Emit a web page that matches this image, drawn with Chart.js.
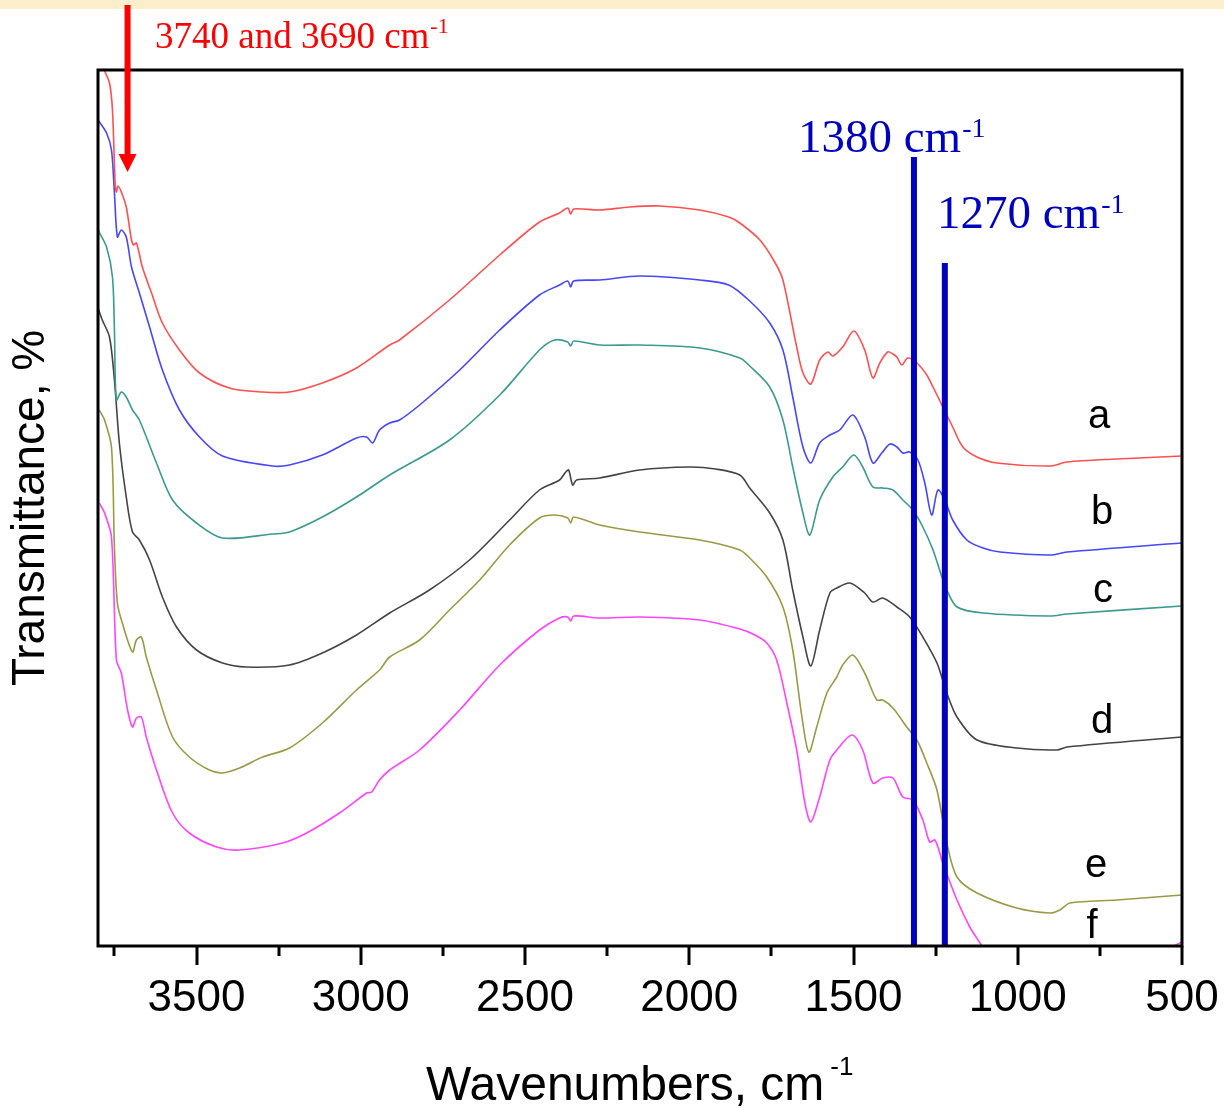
<!DOCTYPE html>
<html><head><meta charset="utf-8">
<script src="https://cdn.jsdelivr.net/npm/chart.js@4.4.1/dist/chart.umd.min.js"></script>
<style>html,body{margin:0;padding:0;background:#fff}#wrap{position:relative;width:1224px;height:1108px}</style>
</head><body><div id="wrap"><canvas id="c"></canvas></div>
<script>
// ---- data (wavenumber cm-1, transmittance arbitrary units, curves offset) ----
const seriesNames = ['a', 'b', 'c', 'd', 'e', 'f'];
const majorTicks = [3500, 3000, 2500, 2000, 1500, 1000, 500];
const minorTicks = [3750, 3250, 2750, 2250, 1750, 1250, 750];
const markerLines = [1316, 1222];      // blue marker positions
const markerTops = [789, 683];
const arrowWavenumber = 3710;

const curveA = [[3800,920],[3780,876],[3765,863],[3756,836],[3748,764],[3744,754],[3739,760],[3729,754],[3714,739],[3698,706],[3692,701],[3683,703],[3665,679],[3637,653],[3604,623],[3552,596],[3491,573],[3400,558],[3299,554],[3217,554],[3117,563],[3013,578],[2912,601],[2882,606],[2730,646],[2577,691],[2456,724],[2395,733],[2370,738],[2361,732],[2352,737],[2273,736],[2181,739],[2090,740],[1968,736],[1880,729],[1846,723],[1785,706],[1740,684],[1715,666],[1673,599],[1654,573],[1630,562],[1603,586],[1578,594],[1563,590],[1533,599],[1499,615],[1466,596],[1441,568],[1420,583],[1396,594],[1380,592],[1368,589],[1353,581],[1335,588],[1307,583],[1277,571],[1258,559],[1228,539],[1198,519],[1167,499],[1124,489],[1064,483],[902,480],[850,484],[698,487],[500,490]];
const curveB = [[3800,826],[3774,813],[3759,796],[3750,753],[3741,709],[3729,716],[3714,709],[3698,679],[3674,653],[3643,619],[3604,576],[3552,536],[3491,509],[3421,490],[3269,480],[3217,481],[3117,491],[3013,508],[2982,509],[2964,503],[2943,516],[2912,523],[2882,526],[2821,541],[2699,576],[2577,616],[2456,651],[2395,661],[2370,665],[2361,659],[2352,665],[2273,666],[2151,670],[1968,666],[1880,661],[1816,645],[1755,623],[1715,596],[1685,549],[1654,499],[1630,483],[1603,503],[1572,511],[1542,516],[1502,531],[1466,509],[1441,483],[1414,493],[1389,502],[1368,499],[1350,493],[1329,494],[1304,486],[1283,463],[1262,431],[1243,456],[1222,446],[1198,426],[1155,406],[1106,398],[1054,394],[902,391],[850,394],[500,403]];
const curveC = [[3800,716],[3774,699],[3756,669],[3750,616],[3744,546],[3729,554],[3714,549],[3695,536],[3674,526],[3622,483],[3573,446],[3500,423],[3421,408],[3269,412],[3217,414],[3117,429],[3013,449],[2912,471],[2730,506],[2577,551],[2456,596],[2410,606],[2370,604],[2361,600],[2352,605],[2273,601],[2151,601],[1968,598],[1846,588],[1816,580],[1755,559],[1715,526],[1685,479],[1654,433],[1633,411],[1603,446],[1563,469],[1533,479],[1499,491],[1472,479],[1441,459],[1411,458],[1380,456],[1350,446],[1319,436],[1289,419],[1258,396],[1231,369],[1216,356],[1185,339],[1106,333],[902,330],[850,332],[500,340]];
const curveD = [[3800,638],[3787,626],[3765,609],[3750,566],[3735,503],[3714,449],[3695,414],[3674,406],[3643,386],[3604,349],[3561,319],[3500,296],[3421,283],[3348,279],[3217,281],[3117,293],[3013,311],[2912,333],[2791,356],[2669,386],[2547,426],[2456,456],[2395,466],[2376,474],[2367,476],[2355,461],[2343,466],[2273,468],[2151,476],[1999,479],[1920,477],[1846,471],[1816,458],[1755,433],[1715,406],[1685,356],[1654,309],[1630,280],[1603,316],[1572,353],[1551,358],[1511,363],[1466,353],[1441,344],[1411,348],[1368,339],[1329,329],[1289,309],[1246,283],[1216,253],[1185,229],[1124,206],[1003,198],[881,196],[850,199],[500,209]];
const curveE = [[3796,536],[3780,526],[3759,499],[3750,399],[3741,343],[3726,323],[3695,294],[3683,306],[3668,309],[3653,289],[3622,256],[3573,209],[3522,189],[3461,176],[3421,173],[3369,178],[3299,189],[3217,198],[3117,223],[3013,256],[2943,276],[2912,289],[2821,306],[2730,336],[2638,366],[2547,401],[2456,428],[2410,431],[2370,428],[2361,423],[2352,429],[2273,421],[2151,414],[1968,406],[1846,396],[1816,388],[1764,369],[1715,339],[1685,296],[1657,229],[1636,194],[1612,219],[1581,253],[1551,269],[1533,281],[1502,291],[1466,273],[1429,246],[1411,246],[1380,238],[1338,219],[1307,206],[1277,183],[1246,156],[1216,103],[1185,69],[1124,53],[1003,38],[902,33],[872,36],[841,43],[698,46],[500,51]];
const curveF = [[3796,443],[3780,433],[3759,409],[3744,286],[3729,273],[3710,236],[3695,219],[3683,228],[3668,229],[3653,209],[3622,176],[3573,133],[3522,113],[3439,99],[3369,96],[3238,103],[3165,113],[3065,133],[2982,153],[2967,154],[2943,166],[2912,176],[2821,196],[2699,236],[2577,281],[2456,316],[2395,328],[2370,329],[2361,325],[2352,330],[2273,328],[2151,329],[1968,326],[1846,317],[1800,311],[1764,303],[1734,286],[1703,243],[1673,196],[1648,143],[1630,124],[1603,149],[1572,186],[1551,196],[1505,211],[1472,196],[1441,163],[1411,168],[1380,168],[1350,149],[1319,146],[1289,126],[1268,104],[1252,106],[1228,83],[1185,46],[1146,19],[1115,3],[1054,-29],[750,-54],[567,-44],[530,-2],[500,4]];

const curves = [curveA, curveB, curveC, curveD, curveE, curveF];
const colors = ['#ff5050', '#4646ff', '#3a9a92', '#444444', '#9a9a46', '#ff44ff'];

const toXY = arr => arr.map(p => ({x: p[0], y: p[1]}));

const datasets = [];
markerLines.forEach((w, i) => {
  datasets.push({label: 'marker' + i, data: [{x: w, y: markerTops[i]}, {x: w, y: 0}],
    borderColor: '#0000c0', borderWidth: 6, pointRadius: 0, order: 0, borderCapStyle: 'butt', clip: false});
});
curves.forEach((c, i) => {
  datasets.push({label: seriesNames[i], data: toXY(c), borderColor: colors[i], borderWidth: 1.6,
    pointRadius: 0, tension: 0.3, order: 1});
});

const SANS = '"Liberation Sans", Arial, sans-serif';
const SERIF = '"Liberation Serif", "Times New Roman", serif';

const decor = {
  id: 'decor',
  beforeDraw(chart) {
    const ctx = chart.ctx;
    ctx.save();
    ctx.fillStyle = '#ffffff';
    ctx.fillRect(0, 0, chart.width, chart.height);
    ctx.fillStyle = '#fdefcb';
    ctx.fillRect(0, 0, chart.width, 9);
    ctx.restore();
  },
  afterDraw(chart) {
    const ctx = chart.ctx, a = chart.chartArea, xs = chart.scales.x;
    ctx.save();
    // frame
    ctx.strokeStyle = '#000'; ctx.lineWidth = 3;
    ctx.strokeRect(a.left, a.top, a.right - a.left, a.bottom - a.top);
    // ticks
    ctx.lineWidth = 3; ctx.beginPath();
    majorTicks.forEach(v => { const px = Math.round(xs.getPixelForValue(v)); ctx.moveTo(px, a.bottom); ctx.lineTo(px, a.bottom + 19); });
    minorTicks.forEach(v => { const px = Math.round(xs.getPixelForValue(v)); ctx.moveTo(px, a.bottom); ctx.lineTo(px, a.bottom + 10); });
    ctx.stroke();
    // red arrow
    const ax = xs.getPixelForValue(arrowWavenumber);
    ctx.fillStyle = '#ff0000';
    ctx.fillRect(ax - 3, 5, 6, 151);
    ctx.beginPath(); ctx.moveTo(ax - 9, 154); ctx.lineTo(ax + 9, 154); ctx.lineTo(ax, 172); ctx.closePath(); ctx.fill();
    // text helper with superscript
    const sup = (txt, x, y, font, size, supSize, rise, color, gap) => {
      ctx.fillStyle = color; ctx.textAlign = 'left'; ctx.textBaseline = 'alphabetic';
      ctx.font = size + 'px ' + font;
      ctx.fillText(txt, x, y);
      const w = ctx.measureText(txt).width;
      ctx.font = supSize + 'px ' + font;
      ctx.fillText('-1', x + w + gap, y - rise);
    };
    sup('3740 and 3690 cm', 155, 48, SERIF, 37, 22, 15, '#ff0000', 1);
    sup('1380 cm', 798, 152, SERIF, 47, 28, 15, '#0000c0', 1);
    sup('1270 cm', 937, 228, SERIF, 47, 28, 15, '#0000c0', 1);
    sup('Wavenumbers, cm', 426, 1100, SANS, 48, 26, 25, '#000000', 6);
    // series labels
    ctx.fillStyle = '#000'; ctx.font = '40px ' + SANS; ctx.textAlign = 'center'; ctx.textBaseline = 'alphabetic';
    const lp = [[1099,428],[1102,524],[1103,602],[1102,733],[1096,877],[1092,938]];
    seriesNames.forEach((n, i) => ctx.fillText(n, lp[i][0], lp[i][1]));
    ctx.restore();
  }
};

new Chart(document.getElementById('c'), {
  type: 'line',
  data: {datasets},
  options: {
    responsive: true, maintainAspectRatio: false, animation: false,
    layout: {padding: {top: 70, right: 42, left: 0, bottom: 0}},
    plugins: {legend: {display: false}, tooltip: {enabled: false}},
    scales: {
      x: {type: 'linear', reverse: true, min: 500, max: 3800,
        grid: {display: false, drawTicks: false}, border: {display: false},
        ticks: {padding: 26, color: '#000', font: {family: SANS, size: 44}, maxRotation: 0, minRotation: 0, autoSkip: false, callback: v => String(v)},
        afterBuildTicks: s => { s.ticks = majorTicks.map(v => ({value: v})); },
        afterFit: s => { s.height = 162; s.paddingLeft = 0; s.paddingRight = 0; }
      },
      y: {type: 'linear', min: 0, max: 876,
        grid: {display: false, drawTicks: false}, border: {display: false},
        ticks: {display: false},
        title: {display: true, text: 'Transmittance, %', color: '#000', font: {family: SANS, size: 46}, padding: {top: 4, bottom: 4}},
        afterFit: s => { s.width = 98; s.paddingTop = 0; s.paddingBottom = 0; }
      }
    }
  },
  plugins: [decor]
});
</script></body></html>
